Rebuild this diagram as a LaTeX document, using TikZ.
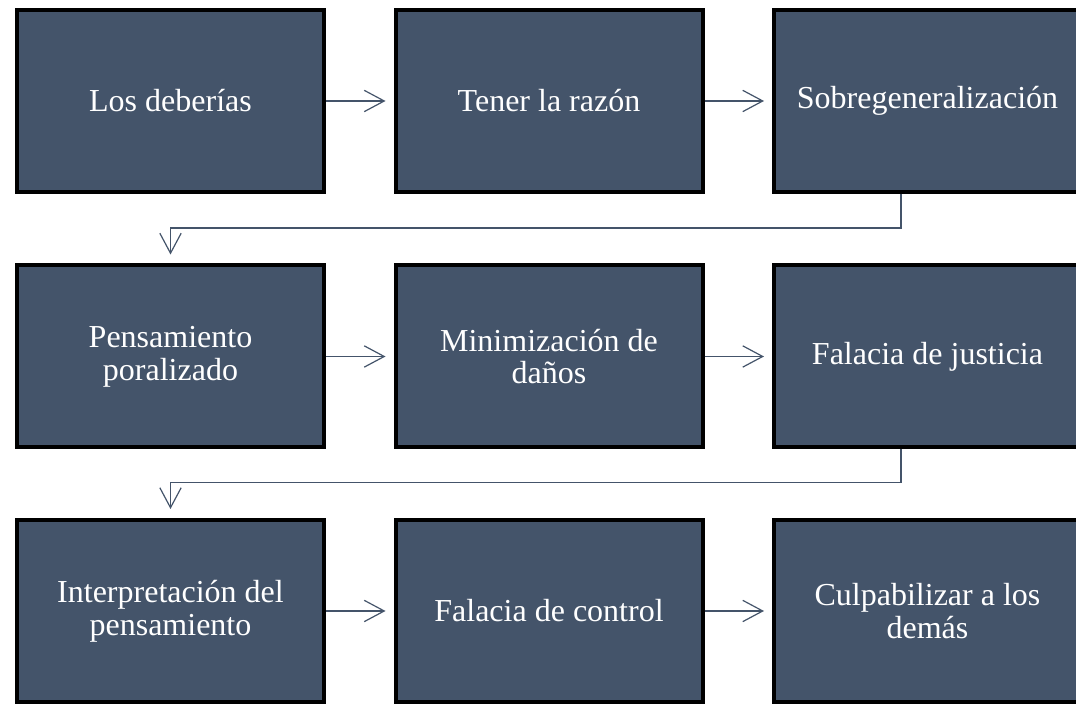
\documentclass[tikz,border=0pt]{standalone}
\usepackage{fontspec}
\setmainfont{Liberation Serif}
\usetikzlibrary{arrows.meta}
\definecolor{slate}{HTML}{44546A}
\tikzset{
	box/.style = {draw = black, line width = 3pt, fill = slate, text = white,
		minimum width = 230.25pt, minimum height = 136.5pt, align = center,
		font = \fontsize{24}{24.5}\selectfont},
	link/.style = {draw = slate, line width = 0.9pt,
		-{Straight Barb[length = 15pt, width = 16pt, line width = 0.9pt]}}
}
\begin{document}
\begin{tikzpicture}[x = 0.75pt, y = 0.75pt]
	\clip (0, 0) rectangle (1076, 705);
	\fill[white] (0, 0) rectangle (1076, 705);
	
	\foreach \n/\x/\y/\t in {b1/170.5/604/{Los deberías}, b2/549/604/{Tener la razón}, b3/927.5/604/{Sobregeneralización},
		b4/170.5/348.5/{Pensamiento\\poralizado}, b5/549/348.5/{Minimización de\\daños}, b6/927.5/348.5/{Falacia de justicia},
		b7/170.5/94/{Interpretación del\\pensamiento}, b8/549/94/{Falacia de control}, b9/927.5/94/{Culpabilizar a los\\demás}} {
		\node[box] (\n) at (\x, \y) {\t};
	}
	
	\foreach \a/\b in {b1/b2, b2/b3, b4/b5, b5/b6, b7/b8, b8/b9} {
		\draw[link, shorten > = 6pt] (\a.east) -- (\b.west);
	}
	
	\coordinate (drop) at (901, 0);
	\draw[link, shorten > = 6.75pt] (b3.south -| drop) -- ++(0, -34) -| (b4.north);
	\draw[link, shorten > = 6.75pt] (b6.south -| drop) -- ++(0, -33) -| (b7.north);
\end{tikzpicture}
\end{document}
